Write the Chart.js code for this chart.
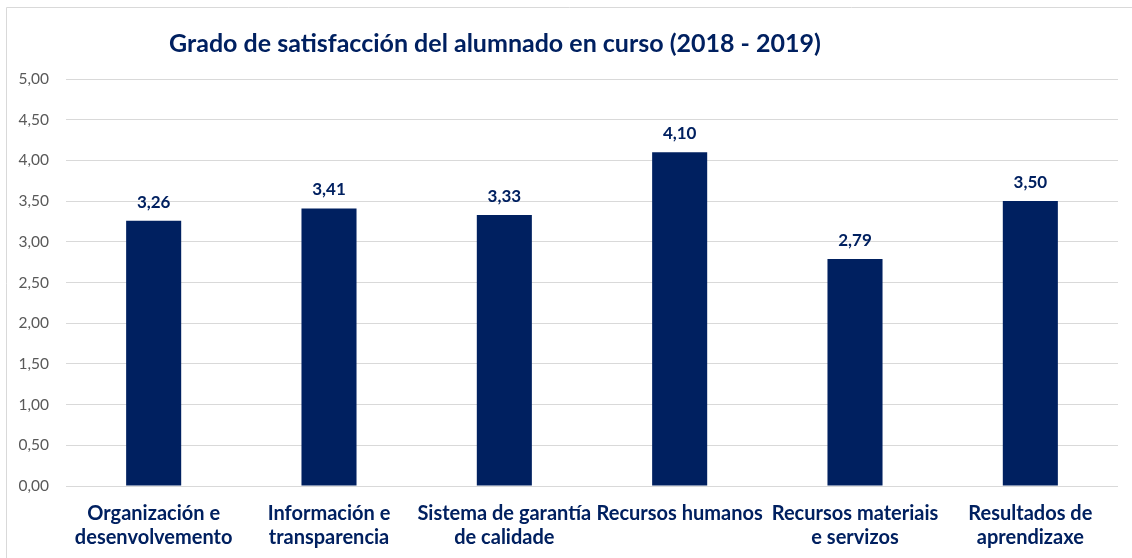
<!DOCTYPE html>
<html>
<head>
<meta charset="utf-8">
<script src="https://cdn.jsdelivr.net/npm/chart.js@4"></script>
<style>
  html, body { margin: 0; padding: 0; background: #ffffff; }
  #wrap { position: relative; width: 1132px; height: 558px; }
</style>
</head>
<body>
<div id="wrap"><canvas id="c" width="1132" height="558"></canvas></div>
<script>
const titleText = "Grado de satisfacción del alumnado en curso (2018 - 2019)";
const categories = [
  ["Organización e", "desenvolvemento"],
  ["Información e", "transparencia"],
  ["Sistema de garantía", "de calidade"],
  ["Recursos humanos"],
  ["Recursos materiais", "e servizos"],
  ["Resultados de", "aprendizaxe"]
];
const values = [3.26, 3.41, 3.33, 4.10, 2.79, 3.50];
const yMin = 0, yMax = 5, yStep = 0.5;

const NAVY = "#002060";
const FONT = "Lato";

const fmt = v => v.toFixed(2).replace(".", ",");

const framePlugin = {
  id: "frame",
  beforeDraw(chart) {
    const ctx = chart.ctx;
    ctx.save();
    ctx.strokeStyle = "#d9d9d9";
    ctx.lineWidth = 1;
    ctx.beginPath();
    ctx.moveTo(6.5, 600);
    ctx.lineTo(6.5, 7.5);
    ctx.lineTo(1200, 7.5);
    ctx.stroke();
    ctx.restore();
  },
  afterDraw(chart) {
    const ctx = chart.ctx;
    ctx.save();
    ctx.fillStyle = NAVY;
    ctx.font = "bold 25px " + FONT;
    ctx.textAlign = "center";
    ctx.textBaseline = "alphabetic";
    ctx.fillText(titleText, 495, 52);
    // value labels
    ctx.font = "bold 17px " + FONT;
    const meta = chart.getDatasetMeta(0);
    meta.data.forEach((bar, i) => {
      ctx.fillText(fmt(values[i]), bar.x, bar.y - 13);
    });
    ctx.restore();
  }
};

new Chart(document.getElementById("c"), {
  type: "bar",
  data: {
    labels: categories,
    datasets: [{
      data: values,
      backgroundColor: NAVY,
      borderWidth: 0,
      barPercentage: 0.314,
      categoryPercentage: 1.0
    }]
  },
  options: {
    responsive: false,
    animation: false,
    devicePixelRatio: 1,
    layout: { padding: { top: 79, right: 14, left: 0, bottom: 0 } },
    plugins: {
      legend: { display: false },
      title: { display: false },
      tooltip: { enabled: false }
    },
    scales: {
      x: {
        grid: { display: false, drawTicks: false },
        border: { display: false },
        ticks: {
          color: NAVY,
          font: { family: FONT, size: 20, weight: "bold", lineHeight: 1.2 },
          padding: 16,
          maxRotation: 0,
          autoSkip: false
        },
        afterFit(scale) { scale.height = 72; }
      },
      y: {
        min: yMin,
        max: yMax,
        grid: { color: "#d9d9d9", lineWidth: 1, drawTicks: false },
        border: { display: false },
        ticks: {
          stepSize: yStep,
          color: "#595959",
          font: { family: FONT, size: 15.5 },
          padding: 17,
          callback: v => fmt(v)
        },
        afterFit(scale) { scale.width = 66; }
      }
    }
  },
  plugins: [framePlugin]
});
</script>
</body>
</html>
